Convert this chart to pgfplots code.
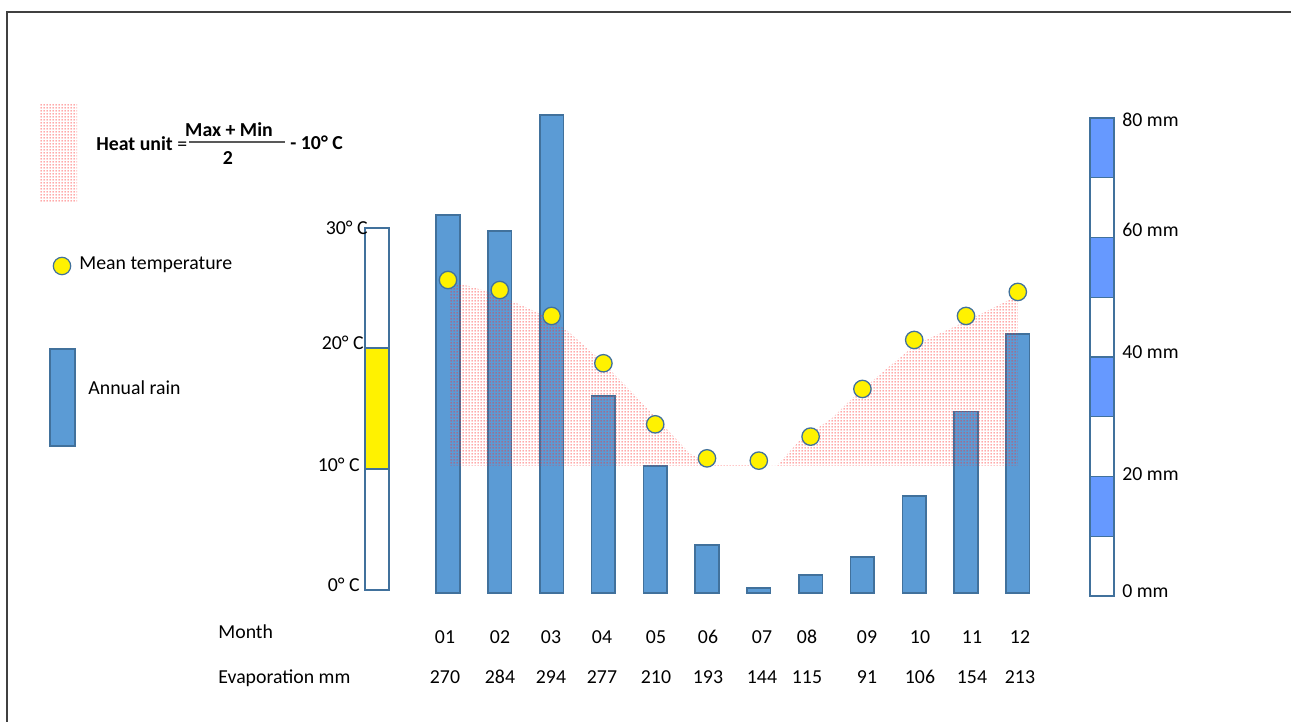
\documentclass[border=0pt]{standalone}
\usepackage{fontspec}
\setmainfont{Carlito}
\usepackage{pgfplots}
\pgfplotsset{compat=1.18}
\usetikzlibrary{patterns.meta}
\definecolor{barfill}{HTML}{5B9BD5}
\definecolor{baredge}{HTML}{41719C}
\definecolor{scalefill}{HTML}{6699FF}
\tikzdeclarepattern{
  name=finedots,
  type=uncolored,
  bottom left={(0pt,0pt)},
  top right={(1.25pt,1.25pt)},
  tile size={(1.25pt,1.25pt)},
  code={\pgfpathrectangle{\pgfpoint{0.3pt}{0.3pt}}{\pgfpoint{0.62pt}{0.62pt}}\pgfusepath{fill}}
}
\newcommand\f{\fontsize{9.9}{11}\selectfont}
\begin{document}
\begin{tikzpicture}
\path[use as bounding box] (0,0) rectangle (645.5pt,361pt);
% rain bars
\begin{axis}[at={(198.1pt,64.5pt)}, anchor=south west, scale only axis,
  width=336.7pt, height=238.5pt, xmin=0, xmax=13, ymin=0, ymax=80,
  hide axis, clip=false, ybar, bar width=11.8pt]
\addplot[fill=barfill, draw=baredge, line width=0.75pt] coordinates {
 (1,63.4) (2,60.7) (3,80.2) (4,33.0) (5,21.3) (6,8.05)
 (7,0.84) (8,3.0) (9,6.0) (10,16.3) (11,30.4) (12,43.4)};
\end{axis}
% temperature
\begin{axis}[at={(198.1pt,66pt)}, anchor=south west, scale only axis,
  width=336.7pt, height=181pt, xmin=0, xmax=13, ymin=0, ymax=30,
  hide axis, clip=false]
\addplot[only marks, mark=*, mark size=4.35pt,
  mark options={fill=yellow, draw=baredge, line width=0.65pt}] coordinates {
 (1,25.69) (2,24.86) (3,22.71) (4,18.79) (5,13.73) (6,10.91)
 (7,10.72) (8,12.71) (9,16.66) (10,20.72) (11,22.71) (12,24.70)};
\addplot[draw=none, pattern=finedots, pattern color=red!80] coordinates {
 (1.02,10.3) (1.02,25.5) (1.4,25.2) (2.0,24.4) (2.77,22.9) (3.3,21.5)
 (3.93,19.1) (4.57,16.3) (5.23,13.3) (5.67,11.3) (6.0,10.6) (6.25,10.4)
 (7.35,10.3) (7.79,12.4) (8.43,14.3) (8.76,15.7) (9.4,18.1) (10.02,20.3)
 (11.11,22.5) (12.0,24.4) (12.0,10.3)};
\end{axis}
\begin{scope}[x=0.5pt, y=-0.5pt, shift={(0pt,361pt)},
  every node/.style={font=\f, inner sep=0pt}]
% frame
\draw[line width=1pt, black!75] (7,722) -- (7,12) -- (1291,12);
% left temperature scale
\fill[yellow] (365,348) rectangle (389,469);
\draw[baredge, line width=0.6pt] (365,228) rectangle (389,590);
\draw[baredge, line width=0.6pt] (365,348) -- (389,348) (365,469) -- (389,469);
\node[anchor=base east] at (368,235) {30° C};
\node[anchor=base east] at (364,350) {20° C};
\node[anchor=base east] at (360,472) {10° C};
\node[anchor=base east] at (360,592) {0° C};
% right rain scale
\foreach \i in {0,2,4,6}
  \fill[scalefill] (1090,{118+\i*59.75}) rectangle (1114,{118+(\i+1)*59.75});
\foreach \i in {1,...,7}
  \draw[baredge, line width=0.6pt] (1090,{118+\i*59.75}) -- (1114,{118+\i*59.75});
\draw[baredge, line width=0.6pt] (1090,118) rectangle (1114,596);
\node[anchor=base west] at (1122,127) {80 mm};
\node[anchor=base west] at (1122,237) {60 mm};
\node[anchor=base west] at (1122,359) {40 mm};
\node[anchor=base west] at (1122,481) {20 mm};
\node[anchor=base west] at (1122,598) {0 mm};
% legend
\fill[pattern=finedots, pattern color=red!80] (39,105) rectangle (77,202);
\node[anchor=base west, font=\f\bfseries] at (96,151) {Heat unit};
\node[anchor=base west] at (177,151) {=};
\node[anchor=base, font=\f\bfseries] at (229,137) {Max + Min};
\draw[line width=0.6pt, black!65] (189,142) -- (285,142);
\node[anchor=base, font=\f\bfseries] at (228,165) {2};
\node[anchor=base west, font=\f\bfseries] at (290,150) {- 10° C};
\draw[fill=yellow, draw=baredge, line width=0.6pt] (62,266) circle (4.35pt);
\node[anchor=base west] at (79,270) {Mean temperature};
\draw[fill=barfill, draw=baredge, line width=0.75pt] (50,349) rectangle (75,446);
\node[anchor=base west] at (88,395) {Annual rain};
% month / evaporation rows
\node[anchor=base west] at (218,639) {Month};
\node[anchor=base west] at (218,684) {Evaporation mm};
\foreach \x/\m/\e in {445/01/270, 500/02/284, 551/03/294, 602/04/277,
  656/05/210, 708/06/193, 762/07/144, 807/08/115, 867/09/91,
  920/10/106, 972/11/154, 1020/12/213} {
  \node[anchor=base] at (\x,644) {\m};
  \node[anchor=base] at (\x,684) {\e};
}
\end{scope}
\end{tikzpicture}
\end{document}
